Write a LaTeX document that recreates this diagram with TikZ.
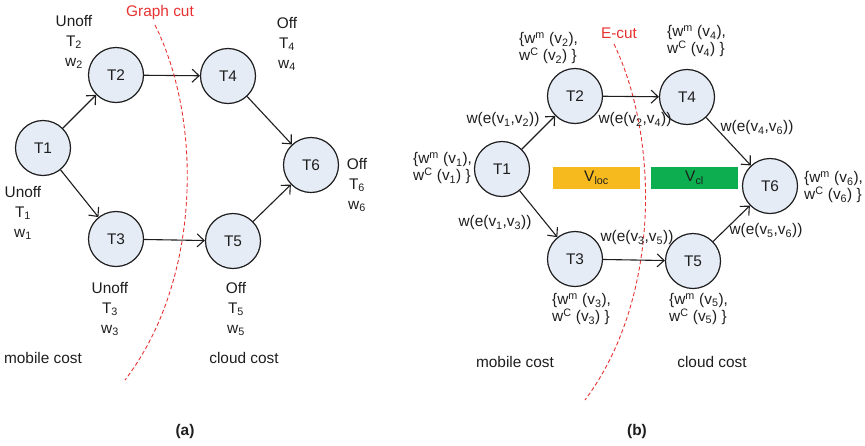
\documentclass[tikz,border=0pt]{standalone}
\usepackage{fontspec}
\setmainfont{Liberation Sans}
\usetikzlibrary{arrows.meta}
\definecolor{nodefill}{RGB}{230,236,246}
\definecolor{ink}{RGB}{30,30,30}
\definecolor{cutred}{RGB}{232,50,50}
\definecolor{locyellow}{RGB}{247,186,30}
\definecolor{clgreen}{RGB}{12,174,80}
\newcommand{\ssb}[1]{\textsubscript{#1}}
\newcommand{\ssp}[1]{\textsuperscript{#1}}
\begin{document}
\begin{tikzpicture}[x=1pt,y=-1pt,
  task/.style={circle, draw=ink, fill=nodefill, line width=1.2pt, minimum size=55pt,
    inner sep=0pt, text=ink, font=\fontsize{15.4}{18}\selectfont},
  flow/.style={-{Straight Barb[length=7pt,width=13pt]}, draw=ink, line width=1.1pt},
  lbl/.style={font=\fontsize{15.4}{20}\selectfont, align=center, text=ink, inner sep=0pt},
  cost/.style={font=\fontsize{15.4}{17}\selectfont, align=left, text=ink, inner sep=0pt, anchor=west},
  elbl/.style={font=\fontsize{15.4}{18}\selectfont, text=ink, inner sep=0pt},
  cut/.style={draw=cutred, line width=0.9pt, dash pattern=on 4pt off 2.5pt},
  cutlbl/.style={font=\fontsize{15.4}{18}\selectfont, text=cutred, inner sep=0pt},
  setbox/.style={minimum width=87pt, minimum height=22pt, inner sep=0pt, text=ink,
    font=\fontsize{15.4}{18}\selectfont},
  caption/.style={font=\fontsize{15.4}{18}\selectfont\bfseries, text=ink, inner sep=0pt}]
\useasboundingbox (0,0) rectangle (865,445);

% ---------- (a) task graph with offloading decisions ----------
\node[task] (a1) at (43,148) {T1};
\node[task] (a2) at (116,75) {T2};
\node[task] (a3) at (116,239) {T3};
\node[task] (a4) at (228,76) {T4};
\node[task] (a5) at (233,241) {T5};
\node[task] (a6) at (311,165) {T6};

\draw[flow] (a1) -- (a2);
\draw[flow] (a1) -- (a3);
\draw[flow] (a2) -- (a4);
\draw[flow] (a3) -- (a5);
\draw[flow] (a4) -- (a6);
\draw[flow] (a5) -- (a6);

\node[lbl] (la1) at (23,213) {Unoff\\T\ssb{1}\\w\ssb{1}};
\node[lbl] (la2) at (74,42) {Unoff\\T\ssb{2}\\w\ssb{2}};
\node[lbl] (la3) at (110,309) {Unoff\\T\ssb{3}\\w\ssb{3}};
\node[lbl] (la4) at (287,44) {Off\\T\ssb{4}\\w\ssb{4}};
\node[lbl] (la5) at (236,309) {Off\\T\ssb{5}\\w\ssb{5}};
\node[lbl] (la6) at (357,185) {Off\\T\ssb{6}\\w\ssb{6}};

\draw[cut] (155,25) .. controls (203,121) and (201,281) .. (125,380);
\node[cutlbl] (gcut) at (160,13) {Graph cut};

\node[elbl] (amob) at (43,358) {mobile cost};
\node[elbl] (acld) at (244,358) {cloud cost};
\node[caption] (capa) at (185,432) {(a)};

% ---------- (b) weighted graph with the E-cut ----------
\node[setbox, fill=locyellow] (vloc) at (596.5,178) {V\ssb{loc}};
\node[setbox, fill=clgreen] (vcl) at (694.5,178) {V\ssb{cl}};

\draw[cut] (614,44) .. controls (660,140) and (660,300) .. (585,400);
\node[cutlbl] (ecut) at (619,33) {E-cut};

\node[task] (b1) at (502,169) {T1};
\node[task] (b2) at (575,96) {T2};
\node[task] (b3) at (575,259) {T3};
\node[task] (b4) at (687,97) {T4};
\node[task] (b5) at (693,261) {T5};
\node[task] (b6) at (770,186) {T6};

\draw[flow] (b1) -- (b2);
\draw[flow] (b1) -- (b3);
\draw[flow] (b2) -- (b4);
\draw[flow] (b3) -- (b5);
\draw[flow] (b4) -- (b6);
\draw[flow] (b5) -- (b6);

\node[elbl] (e12) at (503,120) {w(e(v\ssb{1},v\ssb{2}))};
\node[elbl] (e24) at (635,120) {w(e(v\ssb{2},v\ssb{4}))};
\node[elbl] (e46) at (757,128) {w(e(v\ssb{4},v\ssb{6}))};
\node[elbl] (e13) at (495,223) {w(e(v\ssb{1},v\ssb{3}))};
\node[elbl] (e35) at (637,238) {w(e(v\ssb{3},v\ssb{5}))};
\node[elbl] (e56) at (766,231) {w(e(v\ssb{5},v\ssb{6}))};

\node[cost] (c1) at (413,168.5) {\{w\ssp{m} (v\ssb{1}),\\w\ssp{C} (v\ssb{1}) \}};
\node[cost] (c2) at (519,48) {\{w\ssp{m} (v\ssb{2}),\\w\ssp{C} (v\ssb{2}) \}};
\node[cost] (c3) at (552,309) {\{w\ssp{m} (v\ssb{3}),\\w\ssp{C} (v\ssb{3}) \}};
\node[cost] (c4) at (667,41.5) {\{w\ssp{m} (v\ssb{4}),\\w\ssp{C} (v\ssb{4}) \}};
\node[cost] (c5) at (669,309) {\{w\ssp{m} (v\ssb{5}),\\w\ssp{C} (v\ssb{5}) \}};
\node[cost] (c6) at (804,187.5) {\{w\ssp{m} (v\ssb{6}),\\w\ssp{C} (v\ssb{6}) \}};

\node[elbl] (bmob) at (515,362) {mobile cost};
\node[elbl] (bcld) at (712,362) {cloud cost};
\node[caption] (capb) at (637,432) {(b)};
\end{tikzpicture}
\end{document}
